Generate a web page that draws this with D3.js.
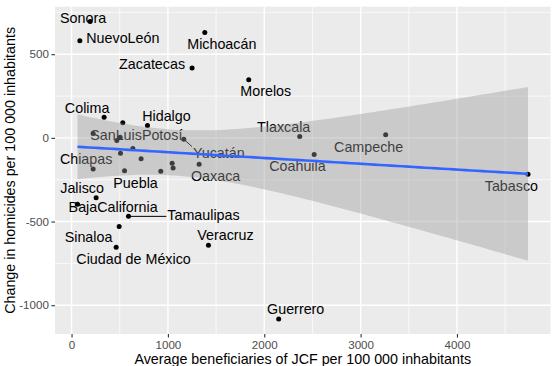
<!DOCTYPE html>
<html>
<head>
<meta charset="utf-8">
<script src="https://cdn.jsdelivr.net/npm/d3@7"></script>
<style>
body { margin: 0; background: #fff; }
text { font-family: "Liberation Sans", Arial, Helvetica, sans-serif; }
</style>
</head>
<body>
<div id="graph-col"></div>
<script>

// one entry per state, same order in every array
var states = ['Sonora', 'NuevoLeón', 'Michoacán', 'Zacatecas', 'Morelos', 'Colima',
              'Aguascalientes', 'Hidalgo', 'Nayarit', 'SanLuisPotosí', 'Durango',
              'Guanajuato', 'Chihuahua', 'Querétaro', 'Chiapas', 'Puebla', 'México',
              'BajaCaliforniaSur', 'QuintanaRoo', 'Oaxaca', 'Yucatán', 'Jalisco',
              'BajaCalifornia', 'Tamaulipas', 'Sinaloa', 'Ciudad de México', 'Veracruz',
              'Guerrero', 'Tlaxcala', 'Coahuila', 'Campeche', 'Tabasco'];

var beneficiaries = [193, 86, 1383, 1251, 1839, 338,
                     532, 788, 224, 470, 504,
                     636, 508, 722, 224, 550, 926,
                     1044, 1054, 1324, 1165, 255,
                     62, 591, 494, 463, 1421,
                     2150, 2368, 2518, 3260, 4737];

var homicideChange = [695, 581, 629, 418, 347, 124,
                      90, 74, 26, -16, 4,
                      -64, -92, -124, -186, -196, -200,
                      -152, -180, -158, -8, -358,
                      -397, -469, -529, -653, -641,
                      -1083, 8, -100, 18, -217];

// states that got no label (ggrepel dropped them)
var unlabeled = ['Aguascalientes', 'Nayarit', 'Durango', 'Guanajuato', 'Chihuahua',
                 'Querétaro', 'México', 'BajaCaliforniaSur', 'QuintanaRoo'];

var xTicks = [0, 1000, 2000, 3000, 4000];
var xMinor = [500, 1500, 2500, 3500, 4500];
var yTicks = [500, 0, -500, -1000];
var yMinor = [750, 250, -250, -750];

var xTitle = 'Average beneficiaries of JCF per 100 000 inhabitants';
var yTitle = 'Change in homicides per 100 000 inhabitants';

// where the repelled labels ended up, offset from their point (px)
var labelNudge = {
	'Sonora': [-7, -4], 'NuevoLeón': [43, -3], 'Michoacán': [17, 11],
	'Zacatecas': [-40, -4], 'Morelos': [17, 11], 'Colima': [-17, -9],
	'Hidalgo': [19, -10], 'SanLuisPotosí': [19.5, -6], 'Yucatán': [35, 13.4],
	'Chiapas': [-7, -10], 'Puebla': [11, 12.7], 'Oaxaca': [16.5, 11.7],
	'Jalisco': [-14, -10], 'BajaCalifornia': [35.6, 3], 'Tamaulipas': [75, -1.3],
	'Sinaloa': [-30.6, 11], 'Ciudad de México': [17.4, 11.7], 'Veracruz': [17, -10],
	'Guerrero': [17, -10.4], 'Tlaxcala': [-16, -10], 'Coahuila': [-16.7, 11.3],
	'Campeche': [-17, 11.7], 'Tabasco': [-16.6, 11.7]
};
var segmentLabels = ['Yucatán', 'Tamaulipas'];

var W = 556, H = 366;
var panel = {left: 55, right: 550.5, top: 6.7, bottom: 334};

var svg = d3.select('#graph-col')
    .append('svg')
    .attr('width', W)
    .attr('height', H);

var expand = function(ext) {
	var pad = (ext[1] - ext[0]) * 0.05;
	return [ext[0] - pad, ext[1] + pad];
}
var plainNum = function(v) { return String(v); }

var x = d3.scaleLinear()
    .domain(expand(d3.extent(beneficiaries)))
    .range([panel.left, panel.right]);
var y = d3.scaleLinear()
    .domain(expand(d3.extent(homicideChange)))
    .range([panel.bottom, panel.top]);

// panel + grid
svg.append('rect')
    .attr('x', panel.left).attr('y', panel.top)
    .attr('width', panel.right - panel.left)
    .attr('height', panel.bottom - panel.top)
    .attr('fill', '#EBEBEB');

var grid = svg.append('g').attr('stroke', '#fff');
grid.selectAll('.xmin').data(xMinor).enter().append('line')
    .attr('x1', x).attr('x2', x).attr('y1', panel.top).attr('y2', panel.bottom)
    .attr('stroke-width', 0.7);
grid.selectAll('.ymin').data(yMinor).enter().append('line')
    .attr('y1', y).attr('y2', y).attr('x1', panel.left).attr('x2', panel.right)
    .attr('stroke-width', 0.7);
grid.selectAll('.xmaj').data(xTicks).enter().append('line')
    .attr('x1', x).attr('x2', x).attr('y1', panel.top).attr('y2', panel.bottom)
    .attr('stroke-width', 1.4);
grid.selectAll('.ymaj').data(yTicks).enter().append('line')
    .attr('y1', y).attr('y2', y).attr('x1', panel.left).attr('x2', panel.right)
    .attr('stroke-width', 1.4);

// axes
var xAxis = svg.append('g')
    .attr('transform', 'translate(0,' + panel.bottom + ')')
    .call(d3.axisBottom(x).tickValues(xTicks).tickFormat(plainNum).tickSize(3.6).tickPadding(3));
var yAxis = svg.append('g')
    .attr('transform', 'translate(' + panel.left + ',0)')
    .call(d3.axisLeft(y).tickValues(yTicks).tickFormat(plainNum).tickSize(3.6).tickPadding(2.5));
[xAxis, yAxis].forEach(function(ax) {
	ax.select('.domain').remove();
	ax.selectAll('line').attr('stroke', '#333').attr('stroke-width', 1.1);
	ax.selectAll('text').attr('fill', '#4D4D4D').style('font-size', '11.6px')
	    .style('font-family', '"Liberation Sans", Arial, sans-serif');
});

svg.append('text')
    .attr('x', (panel.left + panel.right) / 2).attr('y', 363.5)
    .attr('text-anchor', 'middle').style('font-size', '14.3px')
    .text(xTitle);
svg.append('text')
    .attr('transform', 'translate(15,' + (panel.top + panel.bottom) / 2 + ') rotate(-90)')
    .attr('text-anchor', 'middle').style('font-size', '14.3px')
    .text(yTitle);

// points
var rows = states.map(function(s, i) {
	return {name: s, bx: beneficiaries[i], hy: homicideChange[i]};
});

svg.append('g').selectAll('circle').data(rows).enter().append('circle')
    .attr('cx', function(d) { return x(d.bx); })
    .attr('cy', function(d) { return y(d.hy); })
    .attr('r', 2.5)
    .attr('fill', '#000');

// labels
var labelled = rows.filter(function(d) { return unlabeled.indexOf(d.name) < 0; });
var lab = svg.append('g');
labelled.forEach(function(d) {
	var px = x(d.bx), py = y(d.hy);
	var nud = labelNudge[d.name] || [0, -10];
	var t = lab.append('text')
	    .attr('x', px + nud[0]).attr('y', py + nud[1])
	    .attr('text-anchor', 'middle')
	    .attr('dy', '0.35em')
	    .style('font-size', '14.3px')
	    .text(d.name);
	if (segmentLabels.indexOf(d.name) >= 0) {
		var bb = t.node().getBBox();
		var ex = Math.max(bb.x - 1, Math.min(px, bb.x + bb.width + 1));
		var ey = Math.max(bb.y + 2, Math.min(py, bb.y + bb.height - 2));
		lab.append('line')
		    .attr('x1', px).attr('y1', py).attr('x2', ex).attr('y2', ey)
		    .attr('stroke', '#000').attr('stroke-width', 1);
	}
});

// linear fit with 95% band, like geom_smooth(method = 'lm')
var n = rows.length;
var mx = d3.mean(beneficiaries), my = d3.mean(homicideChange);
var sxx = d3.sum(beneficiaries, function(v) { return (v - mx) * (v - mx); });
var sxy = d3.sum(rows, function(d) { return (d.bx - mx) * (d.hy - my); });
var slope = sxy / sxx;
var icpt = my - slope * mx;
var rss = d3.sum(rows, function(d) { var r = d.hy - (icpt + slope * d.bx); return r * r; });
var sres = Math.sqrt(rss / (n - 2));
var tCrit = 2.0423; // qt(0.975, 30)

var xr = d3.extent(beneficiaries);
var fit = d3.range(80).map(function(i) {
	var xv = xr[0] + (xr[1] - xr[0]) * i / 79;
	var yv = icpt + slope * xv;
	var se = sres * Math.sqrt(1 / n + (xv - mx) * (xv - mx) / sxx);
	return {x: xv, y: yv, lo: yv - tCrit * se, hi: yv + tCrit * se};
});

svg.append('path')
    .datum(fit)
    .attr('d', d3.area()
        .x(function(d) { return x(d.x); })
        .y0(function(d) { return y(d.lo); })
        .y1(function(d) { return y(d.hi); }))
    .attr('fill', '#999999')
    .attr('fill-opacity', 0.4);

svg.append('path')
    .datum(fit)
    .attr('d', d3.line()
        .x(function(d) { return x(d.x); })
        .y(function(d) { return y(d.y); }))
    .attr('fill', 'none')
    .attr('stroke', '#3366FF')
    .attr('stroke-width', 2.6);

</script>
</body>
</html>
